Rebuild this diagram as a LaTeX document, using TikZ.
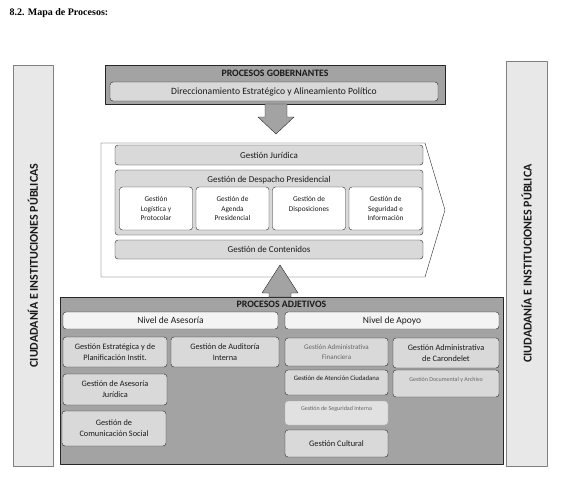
\documentclass[tikz,border=0pt]{standalone}
\usepackage{fontspec}
\setmainfont{Carlito}
\newfontfamily\titlefont{Liberation Serif}
\usetikzlibrary{positioning}

\definecolor{darkfill}{HTML}{A3A3A3}
\definecolor{midfill}{HTML}{D9D9D9}
\definecolor{lightfill}{HTML}{F4F4F4}
\definecolor{barfill}{HTML}{E8E8E8}
\definecolor{edge}{HTML}{262626}
\definecolor{ink}{HTML}{1A1A1A}

\newcommand{\fs}[1]{\fontsize{#1pt}{\dimexpr #1pt*135/100\relax}\selectfont}

\begin{document}
\begin{tikzpicture}[x=1pt, y=-1pt, line join=round,
	frame/.style={draw=edge, fill=darkfill, inner sep=0pt},
	procbox/.style={draw=edge, fill=midfill, rounded corners=3pt, inner sep=1pt, align=center, text=ink},
	whitebox/.style={procbox, fill=white, font=\fs{7.3}},
	levelbox/.style={procbox, fill=lightfill, font=\fs{9.5}},
	sidebar/.style={draw=gray, fill=barfill, inner sep=0pt},
	sidetext/.style={rotate=90, text=ink, font=\fs{12}\bfseries},
	blockarrow/.style={draw=edge, fill=darkfill},
	dims/.style 2 args={minimum width=#1pt, minimum height=#2pt},
	hightext/.style={text depth=9pt}]
	\useasboundingbox (0, 0) rectangle (567, 477);

	\node [anchor=west, font={\titlefont\bfseries\fs{10}}] (0) at (6, 13) {8.2. Mapa de Procesos:};

	% side bars
	\node [sidebar, dims={40}{401}] (1) at (33, 265.5) {};
	\node [sidetext] (2) at (1.center) {CIUDADANÍA E INSTITUCIONES PÚBLICAS};
	\node [sidebar, dims={41}{405}] (3) at (526.5, 263.5) {};
	\node [sidetext] (4) at (3.center) {CIUDADANÍA E INSTITUCIONES PÚBLICA};

	% procesos gobernantes
	\node [frame, dims={340}{39}] (5) at (275, 84.5) {};
	\node [font={\fs{9.8}\bfseries}, text=ink] (6) at (275, 73) {PROCESOS GOBERNANTES};
	\node [procbox, dims={328}{19}, font=\fs{9.6}] (7) at (274, 91.5) {Direccionamiento Estratégico y Alineamiento Político};
	\draw [blockarrow] (265, 104) -- (265, 117) -- (258, 117) -- (276, 134) -- (294, 117) -- (287, 117) -- (287, 104) -- cycle;

	% procesos agregadores de valor
	\draw [draw=edge, fill=white] (101, 143) -- (425, 143) -- (445, 210) -- (425, 277) -- (101, 277) -- cycle;
	\node [procbox, dims={308}{20}, font=\fs{9}] (8) at (269, 155) {Gestión Jurídica};
	\node [procbox, dims={308}{65}] (9) at (269, 202.5) {};
	\node [font=\fs{9}, text=ink] (10) at (269, 180.5) {Gestión de Despacho Presidencial};
	\node [whitebox, dims={73}{43}] (11) at (156, 208.5) {Gestión\\Logística y\\Protocolar};
	\node [whitebox, dims={73}{43}] (12) at (232.5, 208.5) {Gestión de\\Agenda\\Presidencial};
	\node [whitebox, dims={73}{43}, hightext] (13) at (309, 208.5) {Gestión de\\Disposiciones};
	\node [whitebox, dims={73}{43}] (14) at (385.5, 208.5) {Gestión de\\Seguridad e\\Información};
	\node [procbox, dims={308}{19}, font=\fs{9}] (15) at (269, 249.5) {Gestión de Contenidos};

	% procesos adjetivos
	\node [frame, dims={443}{167}] (16) at (281.5, 380.5) {};
	\node [font={\fs{9.8}\bfseries}, text=ink] (17) at (281.5, 304) {PROCESOS ADJETIVOS};
	\draw [blockarrow] (269, 297) -- (269, 293) -- (262, 293) -- (280, 265) -- (298, 293) -- (291, 293) -- (291, 297) -- cycle;

	\node [levelbox, dims={215}{17}] (18) at (170.5, 320.5) {Nivel de Asesoría};
	\node [procbox, dims={104}{30}, font=\fs{8.3}] (19) at (115, 352) {Gestión Estratégica y de\\Planificación Instit.};
	\node [procbox, dims={108}{30}, font=\fs{8.3}] (20) at (225, 352) {Gestión de Auditoría\\Interna};
	\node [procbox, dims={104}{31}, font=\fs{8.3}] (21) at (115, 389.5) {Gestión de Asesoría\\Jurídica};
	\node [procbox, dims={104}{35}, font=\fs{8.3}] (22) at (114, 428.5) {Gestión de\\Comunicación Social};

	\node [levelbox, dims={214}{17}] (23) at (392, 320.5) {Nivel de Apoyo};
	\node [procbox, dims={103}{28}, font=\fs{7}, text=gray!80!black] (24) at (336.5, 352) {Gestión Administrativa\\Financiera};
	\node [procbox, dims={106}{30}, font=\fs{8.3}] (25) at (446, 353) {Gestión Administrativa\\de Carondelet};
	\node [procbox, dims={103}{25}, font=\fs{6.7}, hightext] (26) at (336.5, 382.5) {Gestión de Atención Ciudadana};
	\node [procbox, dims={106}{27}, font=\fs{6}, hightext, text=gray!80!black] (27) at (446, 383.5) {Gestión Documental y Archivo};
	\node [procbox, draw=gray!70, fill=midfill!80, dims={103}{24}, font=\fs{6}, hightext, text=gray!80!black] (28) at (336.5, 413) {Gestión de Seguridad Interna};
	\node [procbox, dims={103}{27}, font=\fs{8.4}] (29) at (336.5, 443.5) {Gestión Cultural};
\end{tikzpicture}
\end{document}
